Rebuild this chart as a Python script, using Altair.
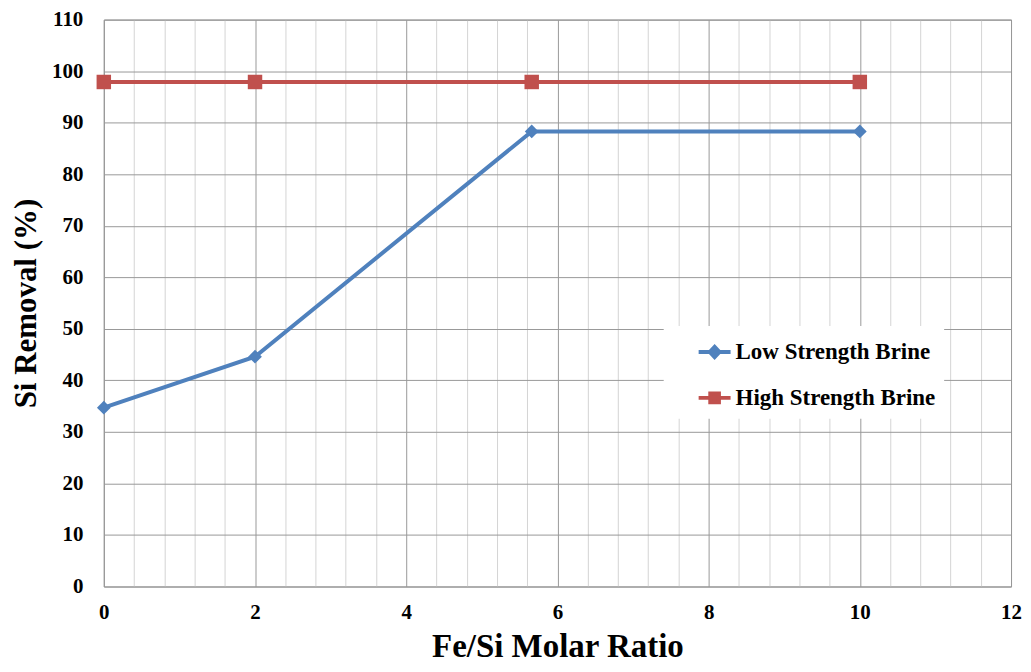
import altair as alt
import pandas as pd

# ---- data ----
fe_si_ratio = [0, 2, 5.66, 10]
low_strength = [34.7, 44.6, 88.3, 88.3]
high_strength = [97.9, 97.9, 97.9, 97.9]
series_names = ["Low Strength Brine", "High Strength Brine"]
series_colors = ["#4F81BD", "#C0504D"]

x_ticks = [round(i * 0.4, 1) for i in range(31)]
y_ticks = list(range(0, 111, 10))

rows = []
for x, v in zip(fe_si_ratio, low_strength):
    rows.append({"ratio": x, "removal": v, "series": series_names[0]})
for x, v in zip(fe_si_ratio, high_strength):
    rows.append({"ratio": x, "removal": v, "series": series_names[1]})
df = pd.DataFrame(rows)

FONT = "Liberation Serif"
MAJOR_TEST = "abs(datum.value/2 - round(datum.value/2)) < 0.001"

x_enc = alt.X(
    "ratio:Q",
    scale=alt.Scale(domain=[0, 12], nice=False, zero=False),
    axis=alt.Axis(
        values=x_ticks,
        tickCount=100,
        title="Fe/Si Molar Ratio",
        labelExpr=MAJOR_TEST + " ? format(datum.value, 'd') : ''",
        labelOverlap=False,
        labelFlush=False,
        gridColor={
            "condition": {"test": MAJOR_TEST, "value": "#999999"},
            "value": "#d4d4d4",
        },
        ticks=False,
        domain=False,
        labelPadding=15,
        titlePadding=8,
        titleFontSize=33,
    ),
)
y_enc = alt.Y(
    "removal:Q",
    scale=alt.Scale(domain=[0, 110], nice=False),
    axis=alt.Axis(
        values=y_ticks,
        tickCount=100,
        title="Si Removal (%)",
        gridColor="#999999",
        ticks=False,
        domain=False,
        labelPadding=21,
        titlePadding=9,
        titleFontSize=31,
        labelOverlap=False,
        labelFlush=False,
    ),
)

base = alt.Chart(df)


def series_layers(name, color, shape, size):
    sub = base.transform_filter(alt.datum.series == name)
    line = sub.mark_line(strokeWidth=4, color=color).encode(x=x_enc, y=y_enc)
    pts = sub.mark_point(shape=shape, filled=True, size=size, opacity=1, color=color).encode(
        x="ratio:Q", y="removal:Q"
    )
    return [line, pts]


layers = series_layers(series_names[0], series_colors[0], "diamond", 190)
layers += series_layers(series_names[1], series_colors[1], "square", 210)

path_low = "M-1,0L1,0M0,-0.32L0.3,0L0,0.32L-0.3,0Z"
path_high = "M-1,0L1,0M-0.27,-0.27L0.27,-0.27L0.27,0.27L-0.27,0.27Z"

legend = alt.Legend(
    title=None,
    orient="none",
    legendX=561,
    legendY=307,
    fillColor="white",
    padding=8,
    rowPadding=14,
    symbolSize=1024,
    symbolOffset=25,
    labelOffset=3,
    symbolOpacity=1,
    symbolStrokeWidth=4,
    labelFont=FONT,
    labelFontWeight="bold",
    labelFontSize=23,
    labelColor="black",
    labelLimit=400,
)

legend_layer = base.mark_point(opacity=0, strokeWidth=4).encode(
    x="ratio:Q",
    y="removal:Q",
    fill=alt.Fill("series:N", scale=alt.Scale(domain=series_names, range=series_colors), legend=legend),
    stroke=alt.Stroke("series:N", scale=alt.Scale(domain=series_names, range=series_colors), legend=legend),
    shape=alt.Shape("series:N", scale=alt.Scale(domain=series_names, range=[path_low, path_high]), legend=legend),
)

chart = (
    alt.layer(*layers, legend_layer)
    .properties(
        width=909,
        height=568,
        autosize=alt.AutoSizeParams(type="none"),
        padding={"left": 96, "top": 11, "right": 12, "bottom": 77},
        background="white",
    )
    .configure_view(stroke="#888888", strokeWidth=1)
    .configure_axis(
        labelFont=FONT,
        labelFontWeight="bold",
        labelFontSize=21,
        labelColor="black",
        titleFont=FONT,
        titleFontWeight="bold",
        titleColor="black",
        gridWidth=1,
        gridOpacity=1,
    )
)

chart.save("out.html", embed_options={"renderer": "svg", "actions": False})
